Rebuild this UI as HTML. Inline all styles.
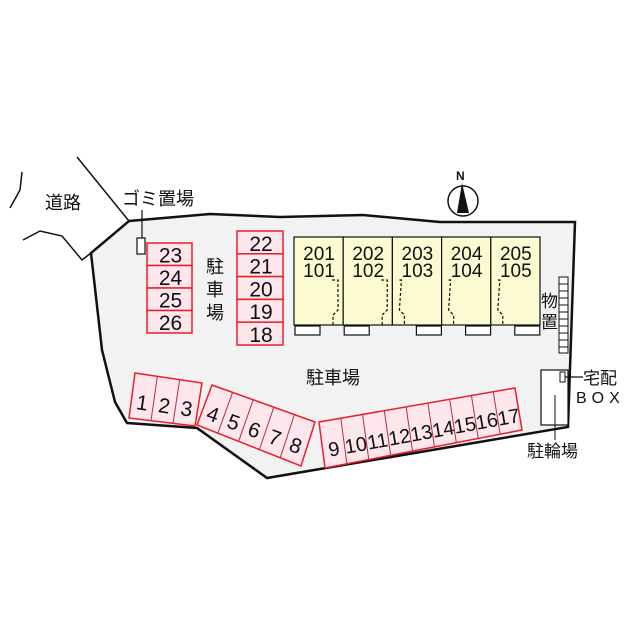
<!DOCTYPE html>
<html><head><meta charset="utf-8"><style>
html,body{margin:0;padding:0;background:#fff;}
svg{display:block;}
text{font-family:"Liberation Sans","Noto Sans CJK JP",sans-serif;fill:#111;}
</style></head><body>
<svg id="s" width="640" height="640" viewBox="0 0 640 640" xmlns="http://www.w3.org/2000/svg">
<polygon points="129,221 210,214 280,217 363,215 440,222 575,222 568,427 267,478 197,428 127,423 115,402 102,350 91,253" fill="#f2f2f2" stroke="#111" stroke-width="2.5"/>
<polyline points="77,157 129,221 91,253 82,260 62,236 40,231 23,240" fill="none" stroke="#111" stroke-width="1.5"/>
<polyline points="22,172 20,190 10,208" fill="none" stroke="#111" stroke-width="1.5"/>
<text x="45" y="209" font-size="18">道路</text>
<text x="122" y="205" font-size="18">ゴミ置場</text>
<line x1="142" y1="210" x2="142" y2="238" stroke="#111" stroke-width="1.2"/>
<rect x="137" y="238" width="8" height="16" fill="#fff" stroke="#111" stroke-width="1.2"/>
<g id="g"></g>
<text x="206" y="273" font-size="18">駐</text>
<text x="206" y="296" font-size="18">車</text>
<text x="206" y="319" font-size="18">場</text>
<text x="306" y="384" font-size="18">駐車場</text>
<circle cx="463" cy="201" r="15" fill="#fff" stroke="#111" stroke-width="1.5"/>
<polygon points="462,183 457,213 469,213" fill="#111"/>
<text x="456" y="180" font-size="12" font-weight="bold">N</text>
<text x="541" y="307" font-size="17">物</text>
<text x="541" y="328" font-size="17">置</text>
<g id="lad"></g>
<rect x="541" y="370" width="27" height="55" fill="#fff" stroke="#111" stroke-width="1.2"/>
<rect x="560" y="372" width="5" height="10" fill="#fff" stroke="#111" stroke-width="1"/>
<line x1="565" y1="377" x2="583" y2="377" stroke="#111" stroke-width="1.2"/>
<text x="583" y="384" font-size="17">宅配</text>
<text x="576" y="403" font-size="16" letter-spacing="5">BOX</text>
<line x1="555" y1="395" x2="555" y2="440" stroke="#111" stroke-width="1"/>
<text x="527" y="457" font-size="17">駐輪場</text>
</svg>
<script>
var g=document.getElementById('g');var NS='http://www.w3.org/2000/svg';
function el(t,a,txt,p){var e=document.createElementNS(NS,t);for(var k in a)e.setAttribute(k,a[k]);if(txt)e.textContent=txt;(p||g).appendChild(e);return e;}
var lad=document.getElementById('lad');
el('rect',{x:559,y:277,width:9,height:76,fill:'#fff',stroke:'#111','stroke-width':1},null,lad);
for(var y=277+7;y<353;y+=7)el('line',{x1:559,y1:y,x2:568,y2:y,stroke:'#111','stroke-width':1},null,lad);
var P='#fde6ec',R='#e8202c';
function col(x,y,w,h,n,labels){for(var i=0;i<n;i++){el('rect',{x:x,y:y+i*h,width:w,height:h,fill:P,stroke:R,'stroke-width':1.5});el('text',{x:x+w/2+1,y:y+i*h+h-3,'font-size':21,'text-anchor':'middle'},labels[i]);}}
col(147,243,45,22.5,4,['23','24','25','26']);
col(237,231,46,22.8,5,['22','21','20','19','18']);
for(var i=0;i<5;i++){var x=294+i*49.2;
el('rect',{x:x,y:237,width:49.2,height:88,fill:'#fbfad0',stroke:'#111','stroke-width':1.2});
el('text',{x:x+25,y:260,'font-size':19,'text-anchor':'middle'},String(201+i));
el('text',{x:x+25,y:277,'font-size':19,'text-anchor':'middle'},String(101+i));
el('rect',{x:(i>=2?x+24:x+1),y:326,width:25,height:9,fill:'#fff',stroke:'#111','stroke-width':1.2});
var dx=(i<2)?x+44:x+7;var s=(i<2?-5:5);
el('polyline',{points:(dx+(i<2?-6:0))+',280 '+(dx+(i<2?0:2))+',280 '+dx+',310 '+(dx+s)+',315 '+(dx+s)+',325',fill:'none',stroke:'#111','stroke-width':1.2,'stroke-dasharray':'3,2'});}
function row(tl,tr,br,bl,labels,fs){var n=labels.length;
el('polygon',{points:[tl,tr,br,bl].map(function(p){return p.join(',')}).join(' '),fill:P,stroke:R,'stroke-width':1.5});
for(var i=0;i<n;i++){var t=i/n,t2=(i+1)/n;
if(i>0){el('line',{x1:tl[0]+(tr[0]-tl[0])*t,y1:tl[1]+(tr[1]-tl[1])*t,x2:bl[0]+(br[0]-bl[0])*t,y2:bl[1]+(br[1]-bl[1])*t,stroke:'#b03040','stroke-width':1});}
var tm=(t+t2)/2;var cx=(tl[0]+(tr[0]-tl[0])*tm+bl[0]+(br[0]-bl[0])*tm)/2;var cy=(tl[1]+(tr[1]-tl[1])*tm+bl[1]+(br[1]-bl[1])*tm)/2;
var rot=Math.atan2(tr[1]-tl[1],tr[0]-tl[0])*180/Math.PI;
el('text',{x:cx,y:cy+13,'font-size':fs,'text-anchor':'middle',transform:'rotate('+rot.toFixed(1)+' '+cx+' '+cy+')'},labels[i]);}}
row([135,373],[202,383],[195,426],[129,418],['1','2','3'],21);
row([212,385],[315,422],[301,466],[197,425],['4','5','6','7','8'],21);
row([319,422],[515,388],[522,430],[325,468],['9','10','11','12','13','14','15','16','17'],20);
</script>
</body></html>
